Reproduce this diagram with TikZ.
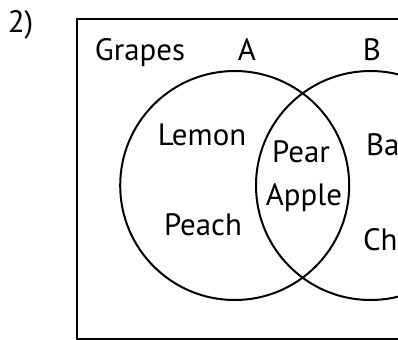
\documentclass[tikz,border=0pt]{standalone}
\usepackage{fontspec}
\setmainfont{PT Sans}
\usetikzlibrary{positioning}

\begin{document}
\begin{tikzpicture}[x=1bp,y=-1bp,line width=2bp,
  lbl/.style={anchor=base,inner sep=0pt,font=\fontsize{31}{34}\selectfont}]
  \def\R{114.5}
  \useasboundingbox (0,0) rectangle (398,340);
  \clip (0,0) rectangle (398,340);
  % universe and the two sets
  \draw (77,18.5) rectangle (430,338.5);
  \coordinate (cA) at (234.7,185.5);
  \coordinate (cB) at (370.5,185.5);
  \draw (cA) circle (\R);
  \draw (cB) circle (\R);
  % labels
  \node[lbl] (num) at (20.5,32.7) {2)};
  \node[lbl] (grapes) at (140,60) {Grapes};
  \node[lbl] (setA) at (247,60) {A};
  \node[lbl] (setB) at (372,60) {B};
  \node[lbl] (lemon) at (202,145) {Lemon};
  \node[lbl] (peach) at (203,235) {Peach};
  \node[lbl] (pear) at (301,162) {Pear};
  \node[lbl] (apple) at (304,205) {Apple};
  \node[lbl,anchor=base west] (ba) at (365,155) {Ba};
  \node[lbl,anchor=base west] (ch) at (362,250) {Ch};
\end{tikzpicture}
\end{document}
